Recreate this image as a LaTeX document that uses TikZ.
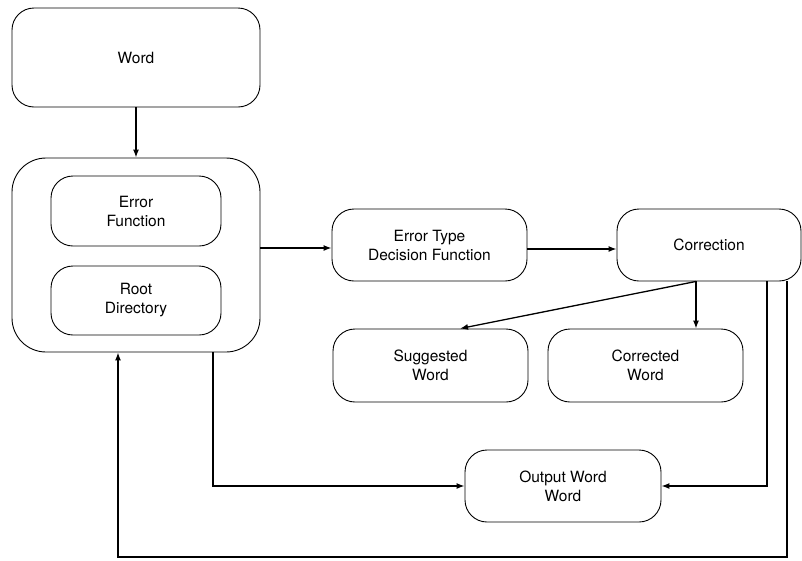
\documentclass[tikz,border=0pt]{standalone}
\usepackage{fontspec}
\setmainfont{TeX Gyre Heros}
\usetikzlibrary{arrows.meta}
\begin{document}
\begin{tikzpicture}[x=1pt,y=-1pt,
  box/.style={draw, line width=0.9pt, rounded corners=22pt, align=center, inner sep=0pt,
    font=\fontsize{15.5}{19}\selectfont},
  arr/.style={line width=1.3pt, -{Latex[length=8pt,width=6pt]}},
  ln/.style={line width=1.3pt}]
\useasboundingbox (0,0) rectangle (802,560);
\node[box, minimum width=248pt, minimum height=99pt] (word) at (136,57.5) {Word};
\node[box, minimum width=248pt, minimum height=194pt, rounded corners=34pt] (big) at (136,255) {};
\node[box, minimum width=170pt, minimum height=70pt] (errf) at (136,211) {Error\\Function};
\node[box, minimum width=170pt, minimum height=69pt] (root) at (136,300.5) {Root\\Directory};
\node[box, minimum width=195pt, minimum height=72pt] (edt) at (429.5,245) {Error Type\\Decision Function};
\node[box, minimum width=184pt, minimum height=72pt] (corr) at (709,245) {Correction};
\node[box, minimum width=195pt, minimum height=73pt] (sugg) at (430.5,365.5) {Suggested\\Word};
\node[box, minimum width=195pt, minimum height=73pt] (corw) at (645.5,365.5) {Corrected\\Word};
\node[box, minimum width=196pt, minimum height=72pt] (out) at (563,486) {Output Word\\Word};
\coordinate (c1) at (213,486);
\coordinate (c2) at (767,486);
\coordinate (c3) at (787,557);
\coordinate (c4) at (118,557);
\draw[arr] (word.south) -- (big.north);
\draw[arr] (big.east |- 0,248) -- (edt.west |- 0,248);
\draw[arr] (edt.east |- 0,249) -- (corr.west |- 0,249);
\draw[arr] (corr.south -| 696,0) -- (sugg.north -| 460,0);
\draw[arr] (corr.south -| 696,0) -- (corw.north -| 696,0);
\draw[arr] (big.south -| c1) -- (c1) -- (out.west);
\draw[arr] (corr.south -| c2) -- (c2) -- (out.east);
\draw[arr] (corr.south -| c3) -- (c3) -- (c4) -- (big.south -| c4);
\end{tikzpicture}
\end{document}
